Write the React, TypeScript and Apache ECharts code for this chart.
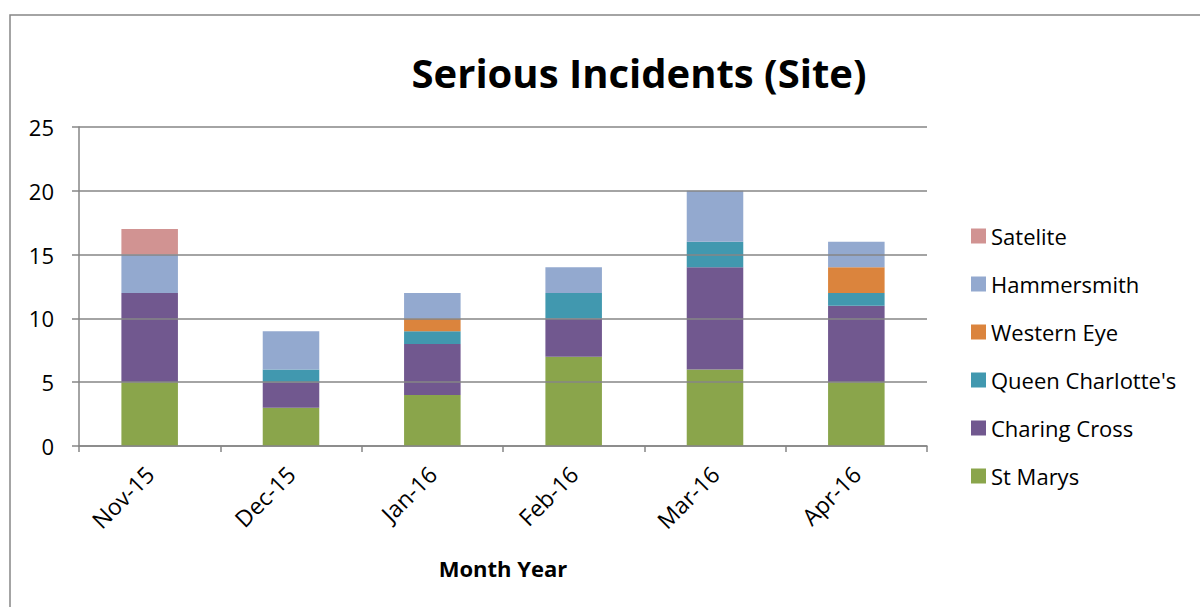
import React, { useEffect, useRef } from "react";
import * as echarts from "echarts";

const categories = ["Nov-15", "Dec-15", "Jan-16", "Feb-16", "Mar-16", "Apr-16"];
const stMarys = [5, 3, 4, 7, 6, 5];
const charingCross = [7, 2, 4, 3, 8, 6];
const queenCharlottes = [0, 1, 1, 2, 2, 1];
const westernEye = [0, 0, 1, 0, 0, 2];
const hammersmith = [3, 3, 2, 2, 4, 2];
const satelite = [2, 0, 0, 0, 0, 0];
const yTicks = { min: 0, max: 25, interval: 5 };

const seriesDefs = [
  { name: "St Marys", data: stMarys, color: "#8AA54B" },
  { name: "Charing Cross", data: charingCross, color: "#71588F" },
  { name: "Queen Charlotte's", data: queenCharlottes, color: "#4198AF" },
  { name: "Western Eye", data: westernEye, color: "#DB843D" },
  { name: "Hammersmith", data: hammersmith, color: "#93A9CF" },
  { name: "Satelite", data: satelite, color: "#D19392" },
];

const FONT = "'Open Sans', 'Noto Sans', sans-serif";

export default function App() {
  const ref = useRef<HTMLDivElement>(null);
  useEffect(() => {
    const chart = echarts.init(ref.current!, null, { renderer: "svg" });
    chart.setOption({
      animation: false,
      backgroundColor: "#ffffff",
      textStyle: { fontFamily: FONT },
      graphic: [
        {
          type: "rect",
          shape: { x: 10, y: 15, width: 1400, height: 800 },
          style: { fill: "none", stroke: "#868686", lineWidth: 1.5 },
          silent: true,
        },
        {
          type: "text",
          x: 639,
          y: 72,
          style: {
            text: "Serious Incidents (Site)",
            font: `bold 40px ${FONT}`,
            fill: "#000",
            textAlign: "center",
            textVerticalAlign: "middle",
          },
        },
      ],
      legend: {
        orient: "vertical",
        left: 966,
        top: 219,
        itemWidth: 15,
        itemHeight: 15,
        itemGap: 24,
        icon: "rect",
        data: [...seriesDefs].reverse().map((s) => s.name),
        textStyle: { fontSize: 22, lineHeight: 24, color: "#000", fontFamily: FONT },
      },
      grid: { left: 79, right: 273, top: 127, bottom: 161 },
      xAxis: {
        type: "category",
        data: categories,
        name: "Month Year",
        nameLocation: "middle",
        nameGap: 111,
        nameTextStyle: { fontSize: 22, fontWeight: "bold", color: "#000", fontFamily: FONT },
        axisLine: { lineStyle: { color: "#868686", width: 1.5 } },
        axisTick: { show: true, length: 6, lineStyle: { color: "#868686", width: 1.5 } },
        axisLabel: { rotate: 45, fontSize: 23, color: "#000", margin: 24, fontFamily: FONT },
      },
      yAxis: {
        type: "value",
        min: yTicks.min,
        max: yTicks.max,
        interval: yTicks.interval,
        z: 3,
        axisLine: { show: true, lineStyle: { color: "#868686", width: 1.5 } },
        axisTick: { show: true, length: 7, lineStyle: { color: "#868686", width: 1.5 } },
        splitLine: { lineStyle: { color: "#868686", width: 1.5 } },
        axisLabel: { fontSize: 22, color: "#000", margin: 25, fontFamily: FONT },
      },
      series: seriesDefs.map((s) => ({
        name: s.name,
        type: "bar",
        stack: "total",
        barWidth: "40%",
        data: s.data,
        itemStyle: { color: s.color },
      })),
    });
    return () => chart.dispose();
  }, []);
  return (
    <div
      ref={ref}
      style={{ position: "absolute", left: 0, top: 0, width: 1200, height: 607 }}
    />
  );
}
